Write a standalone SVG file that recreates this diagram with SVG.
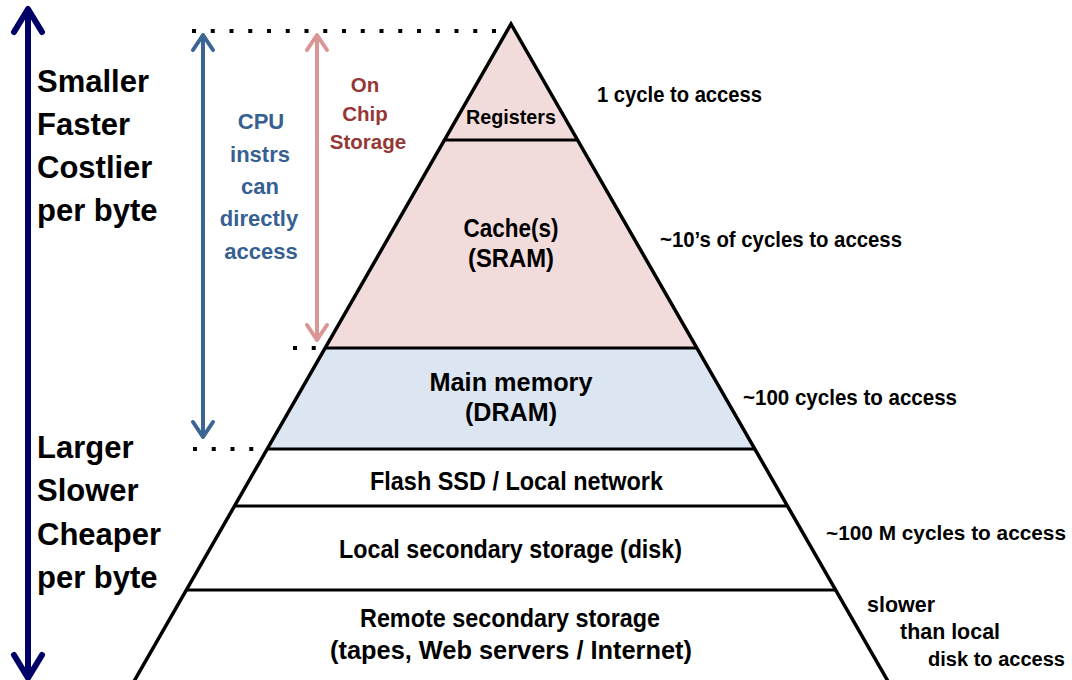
<svg xmlns="http://www.w3.org/2000/svg" width="1072" height="680" viewBox="0 0 1072 680">
  <style>
    text { font-family: "Liberation Sans", Arial, sans-serif; font-weight: bold; }
    .big { font-size: 31px; fill: #000; }
    .lbl { font-size: 25px; fill: #000; text-anchor: middle; }
    .reg { font-size: 20.5px; fill: #000; text-anchor: middle; }
    .lat { font-size: 21.5px; fill: #000; }
    .lat-s { font-size: 20px; fill: #000; }
    .cpu { font-size: 22px; fill: #376092; text-anchor: middle; }
    .chip { font-size: 20.5px; fill: #953735; text-anchor: middle; }
    .edge { stroke: #000; stroke-width: 3.5; fill: none; stroke-linecap: butt; }
    .sep { stroke: #000; stroke-width: 3; fill: none; }
    .dots { stroke: #000; stroke-width: 4; stroke-dasharray: 4 14.75; fill: none; }
    .pink { fill: #F2DCDB; }
    .blue { fill: #DCE6F2; }
    .navy { stroke: #000066; stroke-width: 6; fill: none; }
    .steel { stroke: #3A6595; stroke-width: 4; fill: none; }
    .rose { stroke: #D99694; stroke-width: 4; fill: none; }
  </style>
  <defs>
    <marker id="head-navy" markerUnits="userSpaceOnUse" viewBox="-30 -20 36 40" markerWidth="36" markerHeight="40" refX="-2" refY="0" orient="auto-start-reverse" overflow="visible">
      <path d="M -23 -14 L 0 0 L -23 14" fill="none" stroke="#000066" stroke-width="6" stroke-linecap="round" stroke-linejoin="round"/>
    </marker>
    <marker id="head-steel" markerUnits="userSpaceOnUse" viewBox="-30 -20 36 40" markerWidth="36" markerHeight="40" refX="-2" refY="0" orient="auto-start-reverse" overflow="visible">
      <path d="M -15 -10 L 0 0 L -15 10" fill="none" stroke="#3A6595" stroke-width="4" stroke-linecap="round" stroke-linejoin="round"/>
    </marker>
    <marker id="head-rose" markerUnits="userSpaceOnUse" viewBox="-30 -20 36 40" markerWidth="36" markerHeight="40" refX="-2" refY="0" orient="auto-start-reverse" overflow="visible">
      <path d="M -15 -10 L 0 0 L -15 10" fill="none" stroke="#D99694" stroke-width="4" stroke-linecap="round" stroke-linejoin="round"/>
    </marker>
  </defs>

  <rect width="1072" height="680" fill="#fff"/>

  <!-- pyramid layers -->
  <g id="registers">
    <polygon class="pink" points="511,24 577.5,140 444.5,140"/>
    <text class="reg" x="511" y="124" textLength="90" lengthAdjust="spacingAndGlyphs">Registers</text>
  </g>
  <g id="caches">
    <polygon class="pink" points="444.5,140 577.5,140 696.8,348 325.2,348"/>
    <text class="lbl" x="511" y="237" textLength="95" lengthAdjust="spacingAndGlyphs">Cache(s)</text>
    <text class="lbl" x="511" y="267" textLength="86" lengthAdjust="spacingAndGlyphs">(SRAM)</text>
  </g>
  <g id="main-memory">
    <polygon class="blue" points="325.2,348 696.8,348 754.7,449 267.3,449"/>
    <text class="lbl" x="511" y="391" textLength="163" lengthAdjust="spacingAndGlyphs">Main memory</text>
    <text class="lbl" x="511" y="421" textLength="92" lengthAdjust="spacingAndGlyphs">(DRAM)</text>
  </g>
  <g id="flash">
    <text class="lbl" x="516.5" y="490" textLength="293" lengthAdjust="spacingAndGlyphs">Flash SSD / Local network</text>
  </g>
  <g id="local-disk">
    <text class="lbl" x="510.5" y="558" textLength="343" lengthAdjust="spacingAndGlyphs">Local secondary storage (disk)</text>
  </g>
  <g id="remote">
    <text class="lbl" x="510" y="627" textLength="300" lengthAdjust="spacingAndGlyphs">Remote secondary storage</text>
    <text class="lbl" x="511" y="659" textLength="362" lengthAdjust="spacingAndGlyphs">(tapes, Web servers / Internet)</text>
  </g>

  <!-- pyramid outline -->
  <g id="pyramid-outline">
    <polyline class="edge" points="129,690 511,24 893,690" stroke-linejoin="miter"/>
    <line class="sep" x1="444.5" y1="140" x2="577.5" y2="140"/>
    <line class="sep" x1="325.2" y1="348" x2="696.8" y2="348"/>
    <line class="sep" x1="267.3" y1="449" x2="754.7" y2="449"/>
    <line class="sep" x1="234.6" y1="506" x2="787.4" y2="506"/>
    <line class="sep" x1="186.4" y1="590" x2="835.6" y2="590"/>
  </g>

  <!-- dotted guides -->
  <g id="guides">
    <line class="dots" x1="192" y1="31" x2="497" y2="31"/>
    <line class="dots" x1="293" y1="348" x2="316" y2="348"/>
    <line class="dots" x1="193" y1="449" x2="254" y2="449"/>
  </g>

  <!-- connectors / arrows -->
  <g id="connectors">
    <line class="navy" x1="28" y1="11" x2="28" y2="676" marker-start="url(#head-navy)" marker-end="url(#head-navy)"/>
    <line class="steel" x1="203" y1="37" x2="203" y2="435" marker-start="url(#head-steel)" marker-end="url(#head-steel)"/>
    <line class="rose" x1="317" y1="37" x2="317" y2="338" marker-start="url(#head-rose)" marker-end="url(#head-rose)"/>
  </g>

  <!-- left scale labels -->
  <g id="top-label">
    <text class="big" x="37" y="92">Smaller</text>
    <text class="big" x="37" y="135">Faster</text>
    <text class="big" x="37" y="178">Costlier</text>
    <text class="big" x="37" y="221">per byte</text>
  </g>
  <g id="bottom-label">
    <text class="big" x="37" y="458">Larger</text>
    <text class="big" x="37" y="501">Slower</text>
    <text class="big" x="37" y="545">Cheaper</text>
    <text class="big" x="37" y="588">per byte</text>
  </g>

  <g id="cpu-access">
    <text class="cpu" x="261" y="129">CPU</text>
    <text class="cpu" x="260" y="162">instrs</text>
    <text class="cpu" x="260" y="194">can</text>
    <text class="cpu" x="259" y="226">directly</text>
    <text class="cpu" x="261" y="259">access</text>
  </g>
  <g id="on-chip">
    <text class="chip" x="365" y="92">On</text>
    <text class="chip" x="365" y="121">Chip</text>
    <text class="chip" x="368" y="149">Storage</text>
  </g>

  <!-- access latencies -->
  <g id="latencies">
    <text class="lat" x="597" y="102" textLength="165" lengthAdjust="spacingAndGlyphs">1 cycle to access</text>
    <text class="lat" x="660" y="247" textLength="242" lengthAdjust="spacingAndGlyphs">~10’s of cycles to access</text>
    <text class="lat" x="743" y="405" textLength="214" lengthAdjust="spacingAndGlyphs">~100 cycles to access</text>
    <text class="lat-s" x="826" y="540" textLength="240" lengthAdjust="spacingAndGlyphs">~100 M cycles to access</text>
    <text class="lat" x="867" y="612" textLength="68" lengthAdjust="spacingAndGlyphs">slower</text>
    <text class="lat" x="900" y="639" textLength="100" lengthAdjust="spacingAndGlyphs">than local</text>
    <text class="lat-s" x="928" y="666" textLength="137" lengthAdjust="spacingAndGlyphs">disk to access</text>
  </g>
</svg>
